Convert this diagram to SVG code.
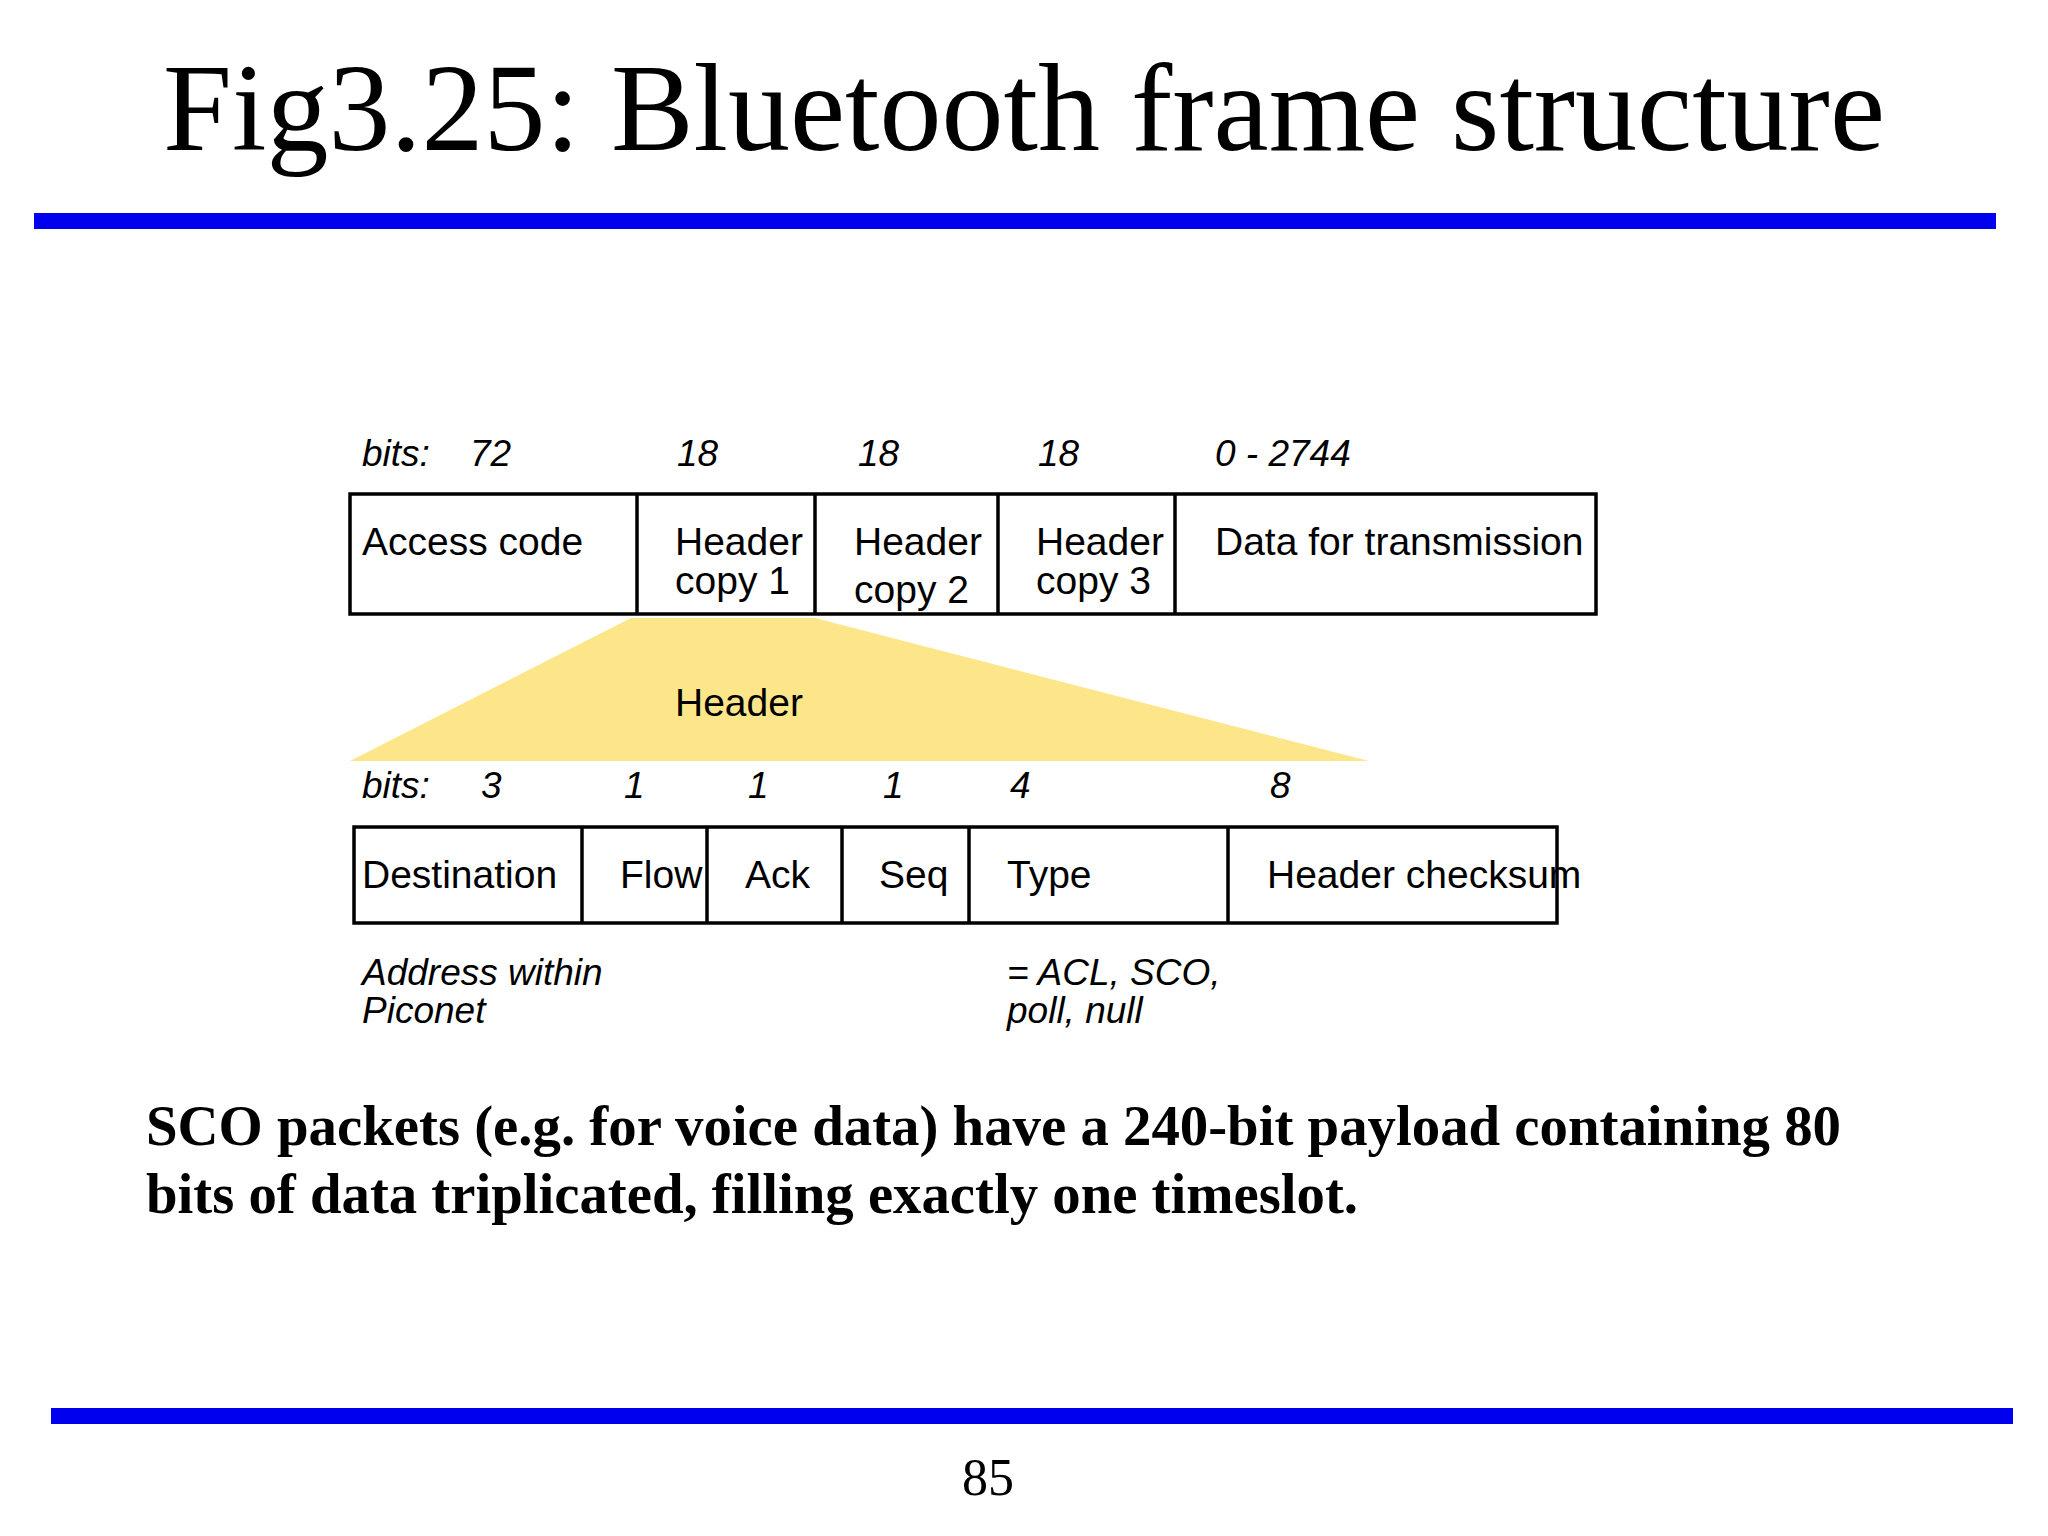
<svg xmlns="http://www.w3.org/2000/svg" width="2048" height="1536" viewBox="0 0 2048 1536">
<style>
.s{font-family:"Liberation Sans",Arial,sans-serif;font-size:39px;fill:#000}
.i{font-family:"Liberation Sans",Arial,sans-serif;font-size:37px;font-style:italic;fill:#000}
.b{fill:none;stroke:#000;stroke-width:3.5}
.t{font-family:"Liberation Serif","Times New Roman",serif;fill:#000}
</style>
<rect width="2048" height="1536" fill="#fff"/>
<text class="t" x="1024" y="150" font-size="124" text-anchor="middle">Fig3.25: Bluetooth frame structure</text>
<rect x="34" y="213" width="1962" height="16" fill="#0000ee"/>
<rect x="51" y="1408" width="1962" height="16" fill="#0000ee"/>
<text class="t" x="988" y="1495" font-size="52" text-anchor="middle">85</text>
<g id="header-fan"><polygon points="631,618 815,618 1369,761 350,761" fill="#fde68a"/><text class="s" x="675" y="716">Header</text></g>
<g id="bits1"><text class="i" x="362" y="466">bits:</text><text class="i" x="470" y="466">72</text><text class="i" x="677" y="466">18</text><text class="i" x="858" y="466">18</text><text class="i" x="1038" y="466">18</text><text class="i" x="1215" y="466">0 - 2744</text></g>
<g id="frame"><rect class="b" x="350" y="494" width="1246" height="120"/>
<line class="b" x1="637" y1="494" x2="637" y2="614"/><line class="b" x1="815" y1="494" x2="815" y2="614"/><line class="b" x1="998" y1="494" x2="998" y2="614"/><line class="b" x1="1175" y1="494" x2="1175" y2="614"/>
<text class="s" x="362" y="555">Access code</text>
<text class="s" x="675" y="555">Header</text><text class="s" x="675" y="594">copy 1</text>
<text class="s" x="854" y="555">Header</text><text class="s" x="854" y="603">copy 2</text>
<text class="s" x="1036" y="555">Header</text><text class="s" x="1036" y="594">copy 3</text>
<text class="s" x="1215" y="555">Data for transmission</text></g>
<g id="bits2"><text class="i" x="362" y="798">bits:</text><text class="i" x="481" y="798">3</text><text class="i" x="624" y="798">1</text><text class="i" x="748" y="798">1</text><text class="i" x="883" y="798">1</text><text class="i" x="1010" y="798">4</text><text class="i" x="1270" y="798">8</text></g>
<g id="header"><rect class="b" x="354" y="827" width="1203" height="96"/>
<line class="b" x1="582" y1="827" x2="582" y2="923"/><line class="b" x1="707" y1="827" x2="707" y2="923"/><line class="b" x1="842" y1="827" x2="842" y2="923"/><line class="b" x1="969" y1="827" x2="969" y2="923"/><line class="b" x1="1228" y1="827" x2="1228" y2="923"/>
<text class="s" x="362" y="888">Destination</text><text class="s" x="620" y="888">Flow</text><text class="s" x="745" y="888">Ack</text><text class="s" x="879" y="888">Seq</text><text class="s" x="1007" y="888">Type</text><text class="s" x="1267" y="888">Header checksum</text></g>
<g id="notes"><text class="i" x="362" y="985">Address within</text><text class="i" x="362" y="1023">Piconet</text><text class="i" x="1007" y="985">= ACL, SCO,</text><text class="i" x="1007" y="1023">poll, null</text></g>
<text class="t" x="146" y="1145" font-size="56" font-weight="bold" textLength="1695" lengthAdjust="spacingAndGlyphs">SCO packets (e.g. for voice data) have a 240-bit payload containing 80</text>
<text class="t" x="146" y="1213" font-size="56" font-weight="bold" textLength="1212" lengthAdjust="spacingAndGlyphs">bits of data triplicated, filling exactly one timeslot.</text>
</svg>
